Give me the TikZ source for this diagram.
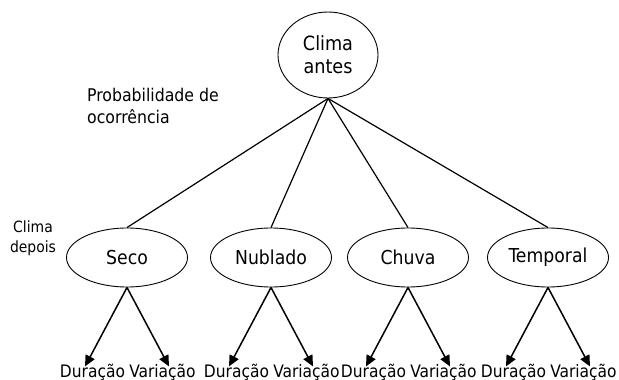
\documentclass[tikz,border=0pt]{standalone}
\usepackage{fontspec}
\setmainfont{DejaVu Sans Condensed}
\usetikzlibrary{shapes.geometric,arrows.meta}
\tikzset{
  oval/.style={draw,ellipse,line width=0.9pt,inner sep=0pt,minimum width=121pt,minimum height=59pt,font=\fontsize{19.2}{22}\selectfont},
  topoval/.style={draw,ellipse,line width=0.9pt,inner sep=0pt,minimum width=100pt,minimum height=86pt,align=center,font=\fontsize{19.6}{23}\selectfont},
  leaf/.style={inner sep=0pt,anchor=base,font=\fontsize{17.2}{22}\selectfont},
  note/.style={inner sep=0pt,font=\fontsize{17.5}{22}\selectfont},
  branch/.style={line width=1.2pt},
  arr/.style={line width=1.5pt,-{Triangle[length=11pt,width=10pt]}}
}
\begin{document}
\begin{tikzpicture}[x=1pt,y=-1pt]
\useasboundingbox (0,0) rectangle (619,380);
\node[topoval] (top) at (328,55) {Clima\\antes};
\node[oval] (seco) at (127,257.5) {Seco};
\node[oval] (nub) at (271,257.5) {Nublado};
\node[oval] (chu) at (408,257.5) {Chuva};
\node[oval] (tem) at (548,257.5) {Temporal};
\node[note,anchor=base west,align=left] (prob) at (87,123) {Probabilidade de\\ocorrência};
\node[note,anchor=base,align=center,font=\fontsize{15.5}{20}\selectfont] (cd) at (33,252) {Clima\\depois};
\foreach \e in {seco,nub,chu,tem}{
  \draw[branch] (top.south) -- (\e.north);
}
\foreach \e/\n in {seco/1,nub/2,chu/3,tem/4}{
  \path (\e.center) ++(-34.5,119.5) node[leaf] (d\n) {Duração};
  \path (\e.center) ++(35.5,119.5) node[leaf] (v\n) {Variação};
  \draw[arr] (\e.south) -- ([xshift=-7.5pt,yshift=-3pt]d\n.north);
  \draw[arr] (\e.south) -- ([xshift=6.5pt,yshift=-3pt]v\n.north);
}
\end{tikzpicture}
\end{document}
